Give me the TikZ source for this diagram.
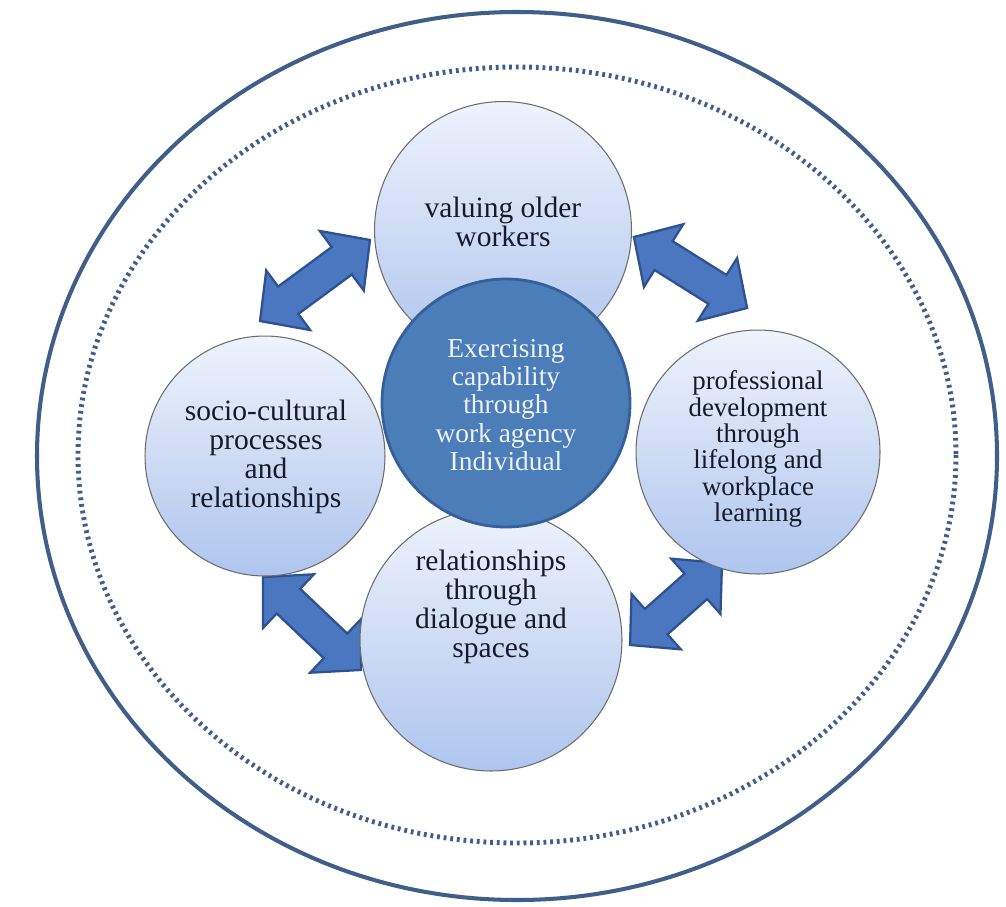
\documentclass[tikz,border=0pt]{standalone}
\usepackage{fontspec}
\setmainfont{Liberation Serif}
\definecolor{ringc}{HTML}{3F5F8A}
\definecolor{arrowfill}{HTML}{4A77C0}
\definecolor{arrowdraw}{HTML}{2E5290}
\definecolor{hubfill}{HTML}{4B7DB9}
\definecolor{hubdraw}{HTML}{36609A}
\definecolor{disctop}{HTML}{EEF3FC}
\definecolor{discbot}{HTML}{AEC5EE}
\definecolor{txtc}{HTML}{161A2C}
\definecolor{hubtxt}{HTML}{EEF2FA}
% block double arrow: centre x, centre y, angle, half length (px)
\newcommand\dblarr[4]{%
  \begin{scope}[shift={(#1,#2)},rotate=#3]
    \draw[arrowst] (-#4,0) -- ({-#4+35},37) -- ({-#4+35},17) -- ({#4-35},17) -- ({#4-35},37) -- (#4,0)
      -- ({#4-35},-37) -- ({#4-35},-17) -- ({-#4+35},-17) -- ({-#4+35},-37) -- cycle;
  \end{scope}}
\begin{document}
\begin{tikzpicture}[x=0.02cm,y=-0.02cm,
  disc/.style={circle, draw=gray!85!black, line width=0.6pt, top color=disctop, bottom color=discbot, inner sep=0pt},
  hub/.style={circle, draw=hubdraw, line width=1.6pt, fill=hubfill, inner sep=0pt},
  lbl/.style={align=center, text=txtc, inner sep=0pt, font=\fontsize{16.8}{16.6}\selectfont},
  arrowst/.style={fill=arrowfill, draw=arrowdraw, line width=1.3pt, line join=miter},
]
\useasboundingbox (0,0) rectangle (1006,906);
\fill[white] (0,0) rectangle (1006,906);
% outer rings
\draw[ringc, line width=2.3pt] (517,456) ellipse [x radius=480, y radius=444];
\draw[ringc, line width=2.8pt, dash pattern=on 1.6pt off 2.2pt] (517,455) ellipse [x radius=439, y radius=388];
% arrows
\dblarr{315}{280.5}{36.4}{68.3}
\dblarr{690.5}{272.5}{-32.1}{66.8}
\dblarr{312}{623.5}{-43.5}{67.5}
\dblarr{676}{604}{41.7}{61.6}
% discs
\node[disc, minimum size=5.14cm] (top) at (503,230) {};
\node[disc, minimum size=4.80cm] (left) at (265,456) {};
\node[disc, minimum size=4.88cm] (right) at (758,452) {};
\node[disc, minimum size=5.24cm] (bottom) at (491,640) {};
\node[hub, minimum size=4.96cm] (hub) at (506,403) {};
% labels
\node[lbl] (toptxt) at (503,222) {valuing older\\workers};
\node[lbl] (lefttxt) at (266,457) {socio-cultural\\processes\\and\\relationships};
\node[lbl, font=\fontsize{15.3}{15}\selectfont] (righttxt) at (758,449) {professional\\development\\through\\lifelong and\\workplace\\learning};
\node[lbl] (bottomtxt) at (491,607) {relationships\\through\\dialogue and\\spaces};
\node[lbl, text=hubtxt, font=\fontsize{15.6}{16.2}\selectfont] (hubtxt) at (506,405) {Exercising\\capability\\through\\work agency\\Individual};
\end{tikzpicture}
\end{document}
